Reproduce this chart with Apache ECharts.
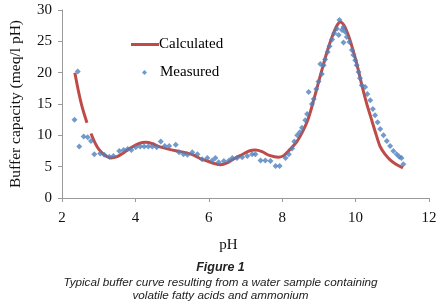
<!DOCTYPE html>
<html>
<head>
<meta charset="utf-8">
<script src="https://cdn.jsdelivr.net/npm/echarts@6/dist/echarts.min.js"></script>
<style>
  html, body { margin: 0; padding: 0; background: #fff; }
  #chart { width: 441px; height: 308px; }
</style>
</head>
<body>
<div id="chart"></div>
<script>
// calculated curve (pH, buffer capacity), '-' breaks the line
let calcPH = [2.35, 2.45, 2.55, 2.68, 2.73, 2.79, 2.9, 3.0, 3.15, 3.33, 3.5, 3.7, 3.9, 4.1, 4.28, 4.45, 4.65, 4.9, 5.14, 5.4, 5.6, 5.8, 5.96, 6.15, 6.32, 6.5, 6.7, 6.9, 7.1, 7.27, 7.45, 7.65, 7.9, 8.05, 8.22, 8.4, 8.55, 8.7, 8.82, 8.95, 9.08, 9.2, 9.32, 9.44, 9.52, 9.58, 9.68, 9.8, 9.92, 10.03, 10.17, 10.3, 10.44, 10.55, 10.67, 10.8, 10.94, 11.1, 11.29]
let calcVal = [20.0, 17.0, 14.5, 12.0, '-', 10.3, 8.8, 7.8, 6.9, 6.4, 6.6, 7.3, 8.1, 8.7, 8.9, 8.7, 8.2, 7.8, 7.5, 7.2, 6.8, 6.2, 5.9, 5.5, 5.3, 5.6, 6.3, 6.9, 7.5, 7.65, 7.4, 6.8, 6.5, 6.8, 7.8, 9.0, 10.5, 12.5, 14.8, 17.6, 20.4, 22.9, 25.1, 26.9, 27.8, 28.1, 27.6, 26.0, 23.8, 21.5, 18.0, 15.1, 12.4, 10.3, 8.2, 7.0, 6.1, 5.4, 4.8]

// measured points
let measPH = [2.34, 2.43, 2.47, 2.59, 2.70, 2.79, 2.88, 3.04, 3.15, 3.29, 3.40, 3.56, 3.68, 3.79, 3.89, 4.01, 4.13, 4.24, 4.35, 4.46, 4.58, 4.69, 4.80, 4.92, 5.10, 5.19, 5.31, 5.42, 5.55, 5.69, 5.82, 5.96, 6.09, 6.18, 6.27, 6.41, 6.55, 6.64, 6.77, 6.91, 7.05, 7.18, 7.27, 7.41, 7.54, 7.68, 7.82, 7.93, 8.09, 8.18, 8.27, 8.33, 8.41, 8.48, 8.54, 8.63, 8.68, 8.72, 8.81, 8.86, 8.93, 8.99, 9.04, 9.08, 9.13, 9.17, 9.24, 9.29, 9.36, 9.42, 9.49, 9.54, 9.56, 9.63, 9.67, 9.67, 9.72, 9.76, 9.83, 9.90, 9.94, 9.99, 10.03, 10.08, 10.12, 10.17, 10.26, 10.32, 10.40, 10.47, 10.53, 10.60, 10.67, 10.76, 10.85, 10.94, 11.03, 11.12, 11.19, 11.25, 11.30]
let measVal = [12.5, 20.2, 8.2, 9.8, 9.7, 9.1, 7.0, 7.1, 6.9, 6.6, 6.7, 7.5, 7.65, 7.8, 7.65, 8.1, 8.2, 8.2, 8.2, 8.2, 8.1, 9.0, 8.3, 8.3, 8.5, 7.3, 7.0, 6.9, 7.3, 7.0, 6.2, 6.4, 6.0, 6.4, 5.7, 5.9, 6.0, 6.4, 6.4, 6.5, 6.7, 7.0, 7.0, 6.0, 6.0, 5.9, 5.1, 5.1, 6.4, 7.0, 7.9, 9.0, 10.0, 10.5, 11.2, 12.4, 13.4, 16.9, 15.0, 15.8, 17.4, 18.6, 21.4, 19.8, 21.2, 22.1, 23.3, 24.2, 25.3, 26.3, 27.0, 26.0, 28.4, 26.8, 27.3, 24.8, 26.5, 25.7, 24.9, 23.6, 22.8, 22.0, 21.2, 20.1, 19.1, 18.0, 17.7, 16.6, 15.6, 14.2, 13.2, 12.1, 11.0, 10.0, 9.1, 8.3, 7.5, 7.0, 6.6, 6.4, 5.4]

let serif = 'Liberation Serif'
let chart = echarts.init(document.getElementById('chart'))

let axisCommon = {
    axisLine: { show: true, lineStyle: { color: '#9a9a9a', width: 1 } },
    axisTick: { show: true, length: 4, lineStyle: { color: '#9a9a9a' } },
    splitLine: { show: false },
    axisLabel: { color: '#111', fontFamily: serif, fontSize: 15 }
}

let option = {
    animation: false,
    grid: { left: 61, right: 12, top: 10, bottom: 110 },
    legend: [
        {
            data: [{ name: 'Calculated', icon: 'rect' }], left: 131, top: 37, padding: 0,
            itemWidth: 28, itemHeight: 3,
            textStyle: { fontFamily: serif, fontSize: 15, color: '#000', padding: [0, 0, 0, -5] }
        },
        {
            data: [{ name: 'Measured', icon: 'diamond' }], left: 142, top: 65, padding: 0,
            itemWidth: 5, itemHeight: 5,
            textStyle: { fontFamily: serif, fontSize: 15, color: '#000', padding: [0, 0, 0, 8] }
        }
    ],
    xAxis: Object.assign({}, axisCommon, {
        type: 'value', min: 2, max: 12, interval: 2,
        name: 'pH', nameLocation: 'middle', nameGap: 40,
        nameTextStyle: { fontFamily: serif, fontSize: 15, color: '#111', padding: [0, 34, 0, 0] },
        axisLabel: Object.assign({}, axisCommon.axisLabel, { margin: 13 })
    }),
    yAxis: Object.assign({}, axisCommon, {
        type: 'value', min: 0, max: 30, interval: 5,
        name: 'Buffer capacity (meq/l pH)', nameLocation: 'middle', nameGap: 38,
        nameTextStyle: { fontFamily: serif, fontSize: 15.5, color: '#111' },
        axisLabel: Object.assign({}, axisCommon.axisLabel, { margin: 10 })
    }),
    graphic: [
        { type: 'text', left: 'center', top: 261, style: { text: 'Figure 1', font: 'italic bold 12.5px "Liberation Sans"', fill: '#222' } },
        { type: 'text', left: 'center', top: 277, style: { text: 'Typical buffer curve resulting from a water sample containing', font: 'italic 11.7px "Liberation Sans"', fill: '#222' } },
        { type: 'text', left: 'center', top: 290, style: { text: 'volatile fatty acids and ammonium', font: 'italic 11.7px "Liberation Sans"', fill: '#222' } }
    ],
    series: [
        {
            name: 'Measured', type: 'scatter', symbol: 'diamond', symbolSize: 6,
            itemStyle: { color: '#4F81BD' },
            data: measPH.map((x, i) => [x, measVal[i]]),
            z: 3
        },
        {
            name: 'Calculated', type: 'line', smooth: 0.3, symbol: 'none', connectNulls: false,
            lineStyle: { color: '#BE4B48', width: 3 },
            itemStyle: { color: '#BE4B48' },
            data: calcPH.map((x, i) => [x, calcVal[i]]),
            z: 2
        }
    ]
}
chart.setOption(option)
</script>
</body>
</html>
